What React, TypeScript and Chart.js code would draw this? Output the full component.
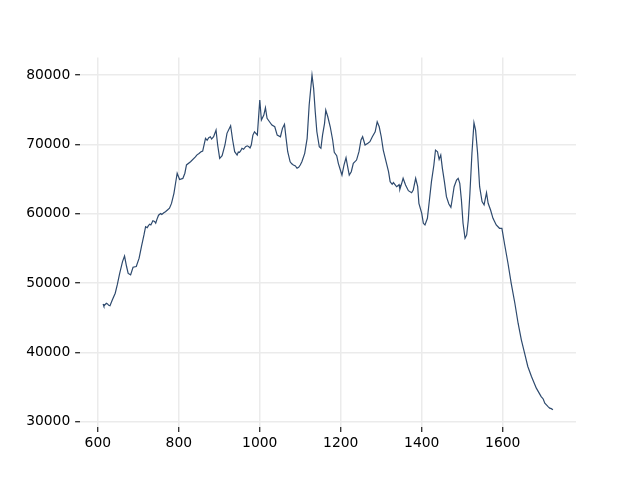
import React, { useEffect, useRef } from "react";
import { Chart, registerables } from "chart.js";

Chart.register(...registerables);

const xValues: number[] = [
  613, 615, 618, 621, 624, 627, 630, 636, 643, 648, 654, 661, 666, 671, 675, 681, 687, 695, 702, 708,
  714, 718, 722, 725, 728, 731, 736, 740, 743, 746, 750, 755, 758, 763, 767, 772, 777, 782, 788, 792,
  796, 802, 810, 815, 819, 829, 841, 845, 850, 854, 859, 866, 870, 874, 878, 881, 886, 892, 896, 901,
  907, 914, 919, 928, 933, 938, 944, 947, 950, 953, 956, 960, 965, 969, 973, 976, 979, 983, 987, 994,
  1000, 1004, 1010, 1014, 1018, 1024, 1030, 1037, 1043, 1051, 1056, 1061, 1065, 1069, 1075, 1079, 1083, 1088, 1092, 1096,
  1100, 1104, 1111, 1117, 1122, 1129, 1133, 1137, 1141, 1147, 1151, 1155, 1160, 1163, 1168, 1174, 1180, 1184, 1190, 1194,
  1199, 1203, 1208, 1213, 1217, 1221, 1226, 1231, 1239, 1245, 1250, 1254, 1260, 1267, 1272, 1278, 1285, 1290, 1295, 1300,
  1305, 1311, 1318, 1322, 1327, 1330, 1334, 1338, 1341, 1344, 1346, 1350, 1354, 1360, 1367, 1375, 1379, 1385, 1390, 1393,
  1400, 1404, 1408, 1414, 1419, 1424, 1430, 1434, 1439, 1443, 1447, 1451, 1456, 1461, 1467, 1472, 1475, 1480, 1486, 1490,
  1494, 1498, 1502, 1507, 1511, 1515, 1519, 1524, 1529, 1533, 1538, 1543, 1549, 1554, 1560, 1564, 1570, 1576, 1584, 1592,
  1598, 1605, 1613, 1621, 1630, 1638, 1646, 1654, 1662, 1671, 1683, 1695, 1700, 1704, 1708, 1712, 1716, 1720, 1724,
];

const yValues: number[] = [
  47000, 46700, 46900, 47100, 47000, 46800, 46750, 47600, 48550, 49750, 51400, 53100, 53900, 52400, 51400, 51200, 52300, 52400, 53600, 55350,
  56950, 58150, 58000, 58300, 58500, 58400, 59000, 58900, 58650, 59200, 59800, 60050, 59900, 60150, 60300, 60550, 60800, 61500, 62950, 64400,
  65850, 64950, 65100, 65850, 67050, 67500, 68200, 68500, 68700, 68900, 69050, 70880, 70600, 70970, 71100, 70780, 71110, 72070, 69920, 68000,
  68380, 69920, 71600, 72700, 70640, 68950, 68470, 68900, 68860, 69100, 69440, 69300, 69670, 69800, 69670, 69500, 69920, 71350, 71830, 71350,
  76400, 73520, 74240, 75290, 73760, 73270, 72800, 72550, 71350, 71110, 72320, 72900, 70880, 68950, 67500, 67200, 67030, 66900, 66560, 66700,
  67030, 67500, 68720, 70880, 75680, 80000, 78080, 74710, 71830, 69670, 69440, 71350, 73040, 74960, 73990, 72550, 70640, 68860, 68380, 67270,
  66310, 65590, 67030, 68080, 66790, 65590, 66070, 67270, 67750, 68950, 70640, 71110, 69920, 70160, 70400, 71110, 71830, 73270, 72550, 71110,
  69190, 67750, 66070, 64630, 64250, 64500, 64200, 63900, 64050, 64200, 63530, 64290, 65120, 64150, 63330, 63040, 63430, 65120, 63910, 61510,
  60070, 58630, 58390, 59350, 61990, 64630, 67030, 69190, 68950, 67850, 68470, 66560, 64630, 62470, 61410, 60930, 61990, 63910, 64870, 65120,
  64390, 61990, 58630, 56470, 56950, 59110, 62950, 68720, 73130, 72070, 68720, 63910, 61750, 61270, 63040, 61510, 60550, 59350, 58390, 57910,
  57910, 55500, 52870, 49980, 47100, 44220, 41820, 39900, 37980, 36540, 34860, 33650, 33300, 32700, 32450, 32200, 31970, 31900, 31730,
];

const xTicks: number[] = [600, 800, 1000, 1200, 1400, 1600];
const yTicks: number[] = [30000, 40000, 50000, 60000, 70000, 80000];

const X_MIN = 556;
const X_MAX = 1781;
const Y_MIN = 29228;
const Y_MAX = 82522;

export default function App() {
  const canvasRef = useRef<HTMLCanvasElement | null>(null);

  useEffect(() => {
    const canvas = canvasRef.current;
    if (!canvas) return;
    const font = { family: "'DejaVu Sans', sans-serif", size: 13.89 };
    const gridColor = "#ebebeb";
    const chart = new Chart(canvas, {
      type: "line",
      data: {
        datasets: [
          {
            data: xValues.map((x, i) => ({ x, y: yValues[i] })),
            borderColor: "#2e4a6e",
            borderWidth: 1.2,
            pointRadius: 0,
            tension: 0,
            fill: false,
          },
        ],
      },
      options: {
        responsive: false,
        animation: false,
        devicePixelRatio: 1,
        layout: { padding: { top: 57.6, right: 64, left: 0, bottom: 0 } },
        plugins: { legend: { display: false }, tooltip: { enabled: false } },
        scales: {
          x: {
            type: "linear",
            min: X_MIN,
            max: X_MAX,
            afterBuildTicks: (scale: any) => {
              scale.ticks = xTicks.map((v) => ({ value: v }));
            },
            afterFit: (scale: any) => {
              scale.height = 52.8;
            },
            border: { display: false },
            grid: {
              color: gridColor,
              lineWidth: 1.5,
              drawTicks: true,
              tickLength: 4.86,
              tickColor: "#000000",
              tickWidth: 1.1,
            },
            ticks: {
              color: "#000000",
              font,
              padding: 3,
              maxRotation: 0,
              autoSkip: false,
              callback: (v: any) => String(v),
            },
          },
          y: {
            type: "linear",
            min: Y_MIN,
            max: Y_MAX,
            afterBuildTicks: (scale: any) => {
              scale.ticks = yTicks.map((v) => ({ value: v }));
            },
            afterFit: (scale: any) => {
              scale.width = 80;
            },
            border: { display: false },
            grid: {
              color: gridColor,
              lineWidth: 1.5,
              drawTicks: true,
              tickLength: 4.86,
              tickColor: "#000000",
              tickWidth: 1.1,
            },
            ticks: {
              color: "#000000",
              font,
              padding: 4.86,
              autoSkip: false,
              callback: (v: any) => String(v),
            },
          },
        },
      },
    });
    return () => chart.destroy();
  }, []);

  return (
    <div style={{ position: "absolute", left: 0, top: 0, width: 640, height: 480, background: "#ffffff" }}>
      <canvas ref={canvasRef} width={640} height={480} style={{ width: 640, height: 480, display: "block" }} />
    </div>
  );
}
